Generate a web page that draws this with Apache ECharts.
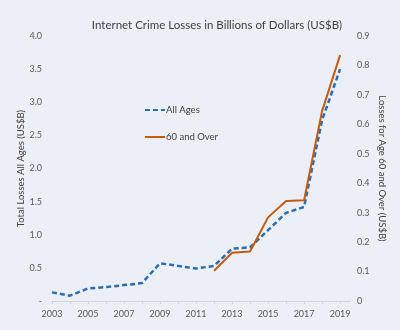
<!DOCTYPE html>
<html>
<head>
<meta charset="utf-8">
<script src="https://cdn.jsdelivr.net/npm/echarts@6/dist/echarts.min.js"></script>
<style>
  html, body { margin: 0; padding: 0; background: #ECEFF6; }
  #chart { width: 400px; height: 330px; }
</style>
</head>
<body>
<div id="chart"></div>
<script>
// Years covered by the report
const years = [2003, 2004, 2005, 2006, 2007, 2008, 2009, 2010, 2011,
               2012, 2013, 2014, 2015, 2016, 2017, 2018, 2019];

// Total reported losses, all ages (US$ billions)
const allAges = [0.13, 0.08, 0.19, 0.21, 0.24, 0.27, 0.57, 0.53, 0.49,
                 0.53, 0.79, 0.81, 1.07, 1.33, 1.42, 2.73, 3.50];

// Losses for victims aged 60 and over (US$ billions), reported from 2012
const sixtyOverYears = [2012, 2013, 2014, 2015, 2016, 2017, 2018, 2019];
const sixtyOver = [0.103, 0.164, 0.168, 0.284, 0.340, 0.342, 0.645, 0.835];

const textColor = '#595959';
const font = 'Lato, "Open Sans", sans-serif';

const chart = echarts.init(document.getElementById('chart'));
chart.setOption({
  backgroundColor: '#ECEFF6',
  animation: false,
  textStyle: { fontFamily: font },
  title: {
    text: 'Internet Crime Losses in Billions of Dollars (US$B)',
    left: 212, top: 14, textAlign: 'center',
    textStyle: { fontSize: 11.5, fontWeight: 'normal', color: '#404040', fontFamily: font }
  },
  legend: {
    orient: 'vertical',
    left: 139, top: 100,
    itemWidth: 20, itemHeight: 10, itemGap: 17,
    itemStyle: { opacity: 0 },
    textStyle: { fontSize: 9.5, color: '#404040', fontFamily: font, padding: [0, 0, 0, -4] }
  },
  grid: { left: 52, right: 50, top: 36, bottom: 29 },
  xAxis: {
    type: 'value',
    min: 2003, max: 2019.55, interval: 1,
    splitLine: { show: false },
    axisLine: { lineStyle: { color: '#D0D3DA' } },
    axisTick: { show: true, length: 3, lineStyle: { color: '#D0D3DA' } },
    axisLabel: {
      color: textColor, fontSize: 9, margin: 9,
      showMaxLabel: false,
      formatter: v => (Number.isInteger(v) && v % 2 === 1) ? String(v) : ''
    }
  },
  yAxis: [
    {
      type: 'value', min: 0, max: 4, interval: 0.5,
      name: 'Total Losses All Ages (US$B)',
      nameLocation: 'middle', nameGap: 26, nameRotate: 90,
      nameMoveOverlap: false,
      nameTextStyle: { fontSize: 9.5, color: '#404040', fontFamily: font },
      splitLine: { show: false },
      axisLine: { show: false }, axisTick: { show: false },
      axisLabel: {
        color: textColor, fontSize: 9, margin: 10,
        formatter: v => v === 0 ? '-' : v.toFixed(1)
      }
    },
    {
      type: 'value', min: 0, max: 0.9, interval: 0.1,
      name: 'Losses for Age 60 and Over (US$B)',
      nameLocation: 'middle', nameGap: 27, nameRotate: -90,
      nameMoveOverlap: false,
      nameTextStyle: { fontSize: 9.5, color: '#404040', fontFamily: font },
      splitLine: { show: false },
      axisLine: { show: false }, axisTick: { show: false },
      axisLabel: {
        color: textColor, fontSize: 9, margin: 7,
        formatter: v => v === 0 ? '0' : v.toFixed(1)
      }
    }
  ],
  series: [
    {
      name: 'All Ages', type: 'line', yAxisIndex: 0,
      symbol: 'none',
      data: years.map((y, i) => [y, allAges[i]]),
      lineStyle: { color: '#2A6FB0', width: 2.5, type: [5, 3] },
      itemStyle: { color: '#2A6FB0' }
    },
    {
      name: '60 and Over', type: 'line', yAxisIndex: 1,
      symbol: 'none',
      data: sixtyOverYears.map((y, i) => [y, sixtyOver[i]]),
      lineStyle: { color: '#C55A11', width: 2 },
      itemStyle: { color: '#C55A11' }
    }
  ]
});
</script>
</body>
</html>
